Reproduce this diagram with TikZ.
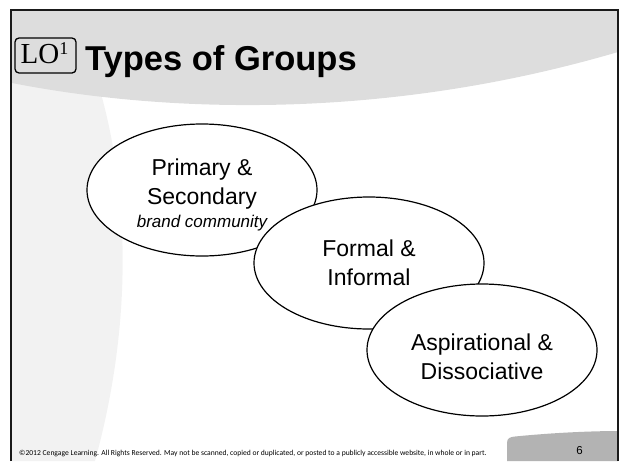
\documentclass[tikz,border=0pt]{standalone}
\usepackage{fontspec}
\setmainfont{Liberation Sans}
\newfontfamily\lofont{Liberation Serif}
\newfontfamily\notefont{Carlito}
\usetikzlibrary{shapes.geometric}
\definecolor{bandgray}{HTML}{DDDDDD}
\definecolor{swooshgray}{HTML}{F2F2F2}
\definecolor{tabgray}{HTML}{B3B3B3}
\definecolor{framecol}{HTML}{1A1A1A}
\tikzset{
  groupoval/.style={ellipse, draw=black, fill=white, line width=1.2pt,
    minimum width=230pt, minimum height=132pt, inner sep=0pt,
    align=center, font=\fontsize{23}{29}\selectfont},
}
\begin{document}
\begin{tikzpicture}[x=1pt,y=-1pt]
\useasboundingbox (0,0) rectangle (620,461);
% background swoosh on the left
\fill[swooshgray] (12,80) -- (100,80) -- (100,90)
  .. controls (131,200) and (131,330) .. (95,461) -- (12,461) -- cycle;
% header band
\fill[bandgray] (12,10) -- (618,10) -- (618,52)
  .. controls (380,122) and (160,112) .. (12,83) -- cycle;
% page number tab
\fill[tabgray] (507,461) -- (507,443) .. controls (507,438) and (510,437) .. (515,436.5)
  .. controls (560,432) and (600,431) .. (618,431) -- (618,461) -- cycle;
% frame
\draw[framecol, line width=2.4pt] (11,461) -- (11,10) -- (618,10) -- (618,461);

% title
\node[draw, rounded corners=4pt, line width=1.3pt, minimum width=61pt, minimum height=35pt, inner sep=0pt]
  (lobox) at (45.5,55.5) {};
\node[anchor=base west, inner sep=0pt, font=\lofont\fontsize{29}{30}\selectfont]
  (lotext) at (20.5,63.5) {LO\raisebox{9pt}{\fontsize{18}{18}\selectfont 1}};
\node[anchor=base west, inner sep=0pt, font=\bfseries\fontsize{34.5}{36}\selectfont]
  (title) at (85,70.5) {Types of Groups};

% the three group types
\node[groupoval] (primary) at (202,190)
  {\rule{0pt}{27pt}Primary \&\\Secondary\\[-6pt]{\fontsize{17}{20}\selectfont\itshape brand community}};
\node[groupoval] (formal) at (369,263) {Formal \&\\Informal};
\node[groupoval] (aspir) at (482,350) {\rule{0pt}{31pt}Aspirational \&\\Dissociative};

% footer
\node[anchor=base west, inner sep=0pt, font=\notefont\fontsize{7.6}{9}\selectfont]
  (copyright) at (19,455)
  {\textcopyright2012 Cengage Learning. All Rights Reserved. May not be scanned, copied or duplicated, or posted to a publicly accessible website, in whole or in part.};
\node[inner sep=0pt, font=\fontsize{11.5}{12}\selectfont] (pagenum) at (579.5,451) {6};
\end{tikzpicture}
\end{document}
